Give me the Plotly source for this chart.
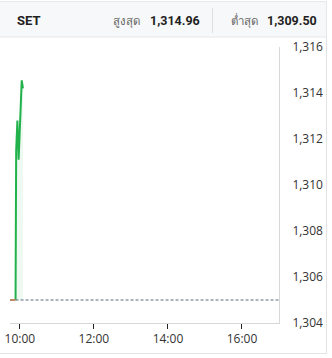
import plotly.graph_objects as go

# ---- data ----
day = "2024-01-01 "
prev_close = 1305.0
prev_times = ["09:44", "09:53"]
prev_values = [1305.0, 1305.0]
line_times = ["09:53", "09:54", "09:56", "09:58", "10:03", "10:05"]
line_values = [1305.0, 1311.5, 1312.8, 1311.1, 1314.55, 1314.2]
x_range = ["09:44", "17:00"]
x_tick_vals = ["10:00", "12:00", "14:00", "16:00"]
x_tick_text = ["10:00", "12:00", "14:00", "16:00"]
y_tick_vals = [1304, 1306, 1308, 1310, 1312, 1314, 1316]
y_tick_text = ["1,304", "1,306", "1,308", "1,310", "1,312", "1,314", "1,316"]
title = "SET"
high_label, high_value = "สูงสุด", "1,314.96"
low_label, low_value = "ต่ำสุด", "1,309.50"

W, H = 332, 358
def px(x):
    return x / W
def py(y):
    return 1 - y / H

FONT = "Open Sans, Noto Sans, sans-serif"

fig = go.Figure()
# baseline for the fill (previous close)
fig.add_trace(go.Scatter(
    x=[day + t for t in line_times], y=[prev_close] * len(line_times), mode="lines",
    line=dict(width=0, color="rgba(0,0,0,0)"), hoverinfo="skip", showlegend=False))
fig.add_trace(go.Scatter(
    x=[day + t for t in line_times], y=line_values, mode="lines",
    line=dict(color="#22b24c", width=2), fill="tonexty",
    fillcolor="rgba(34,178,76,0.08)", hoverinfo="skip", showlegend=False))
fig.add_trace(go.Scatter(
    x=[day + line_times[0], day + x_range[1]], y=[prev_close, prev_close], mode="lines",
    line=dict(color="#5a6c7e", width=1, dash="3px,2px"), hoverinfo="skip", showlegend=False))
fig.add_trace(go.Scatter(
    x=[day + t for t in prev_times], y=prev_values, mode="lines",
    line=dict(color="#c08a66", width=2), hoverinfo="skip", showlegend=False))

shapes = [
    dict(type="rect", xref="paper", yref="paper", x0=px(-2), x1=px(326.5), y0=py(353.5), y1=py(1.5),
         line=dict(color="#e3e3e3", width=1), fillcolor="rgba(0,0,0,0)", layer="below"),
    dict(type="rect", xref="paper", yref="paper", x0=px(-2), x1=px(326.5), y0=py(37), y1=py(1.5),
         line=dict(color="#e8e8e8", width=1), fillcolor="#f7f8f9", layer="below"),
    dict(type="line", xref="paper", yref="paper", x0=px(212.5), x1=px(212.5), y0=py(33), y1=py(8),
         line=dict(color="#dedede", width=1)),
]

annotations = [
    dict(text="<b>" + title + "</b>", x=px(15), y=py(20), xref="paper", yref="paper",
         xanchor="left", yanchor="middle", showarrow=False,
         font=dict(family="Roboto, Noto Sans, sans-serif", size=13, color="#1f1f1f")),
    dict(text=high_label, x=px(111), y=py(20), xref="paper", yref="paper",
         xanchor="left", yanchor="middle", showarrow=False,
         font=dict(family="Noto Sans, sans-serif", size=11.5, color="#666666")),
    dict(text="<b>" + high_value + "</b>", x=px(148), y=py(20), xref="paper", yref="paper",
         xanchor="left", yanchor="middle", showarrow=False,
         font=dict(family="Roboto, Noto Sans, sans-serif", size=12.5, color="#1f1f1f")),
    dict(text=low_label, x=px(229), y=py(20), xref="paper", yref="paper",
         xanchor="left", yanchor="middle", showarrow=False,
         font=dict(family="Noto Sans, sans-serif", size=11.5, color="#666666")),
    dict(text="<b>" + low_value + "</b>", x=px(265), y=py(20), xref="paper", yref="paper",
         xanchor="left", yanchor="middle", showarrow=False,
         font=dict(family="Roboto, Noto Sans, sans-serif", size=12.5, color="#1f1f1f")),
]

fig.update_layout(
    template="none",
    width=W, height=H, margin=dict(l=0, r=0, t=0, b=0, pad=0),
    paper_bgcolor="white", plot_bgcolor="white", showlegend=False,
    shapes=shapes, annotations=annotations,
    xaxis=dict(domain=[px(10), px(279)], type="date", automargin=False,
               range=[day + x_range[0], day + x_range[1]],
               tickvals=[day + t for t in x_tick_vals], ticktext=x_tick_text,
               showgrid=False, zeroline=False, showline=True, linecolor="#d8d8d8", linewidth=1,
               ticks="outside", ticklen=5, tickcolor="#222", tickwidth=1,
               tickfont=dict(family=FONT, size=12, color="#333"), fixedrange=True),
    yaxis=dict(domain=[py(323), py(47)], range=[1304, 1316], side="right", automargin=False,
               tickvals=y_tick_vals, ticktext=y_tick_text,
               showgrid=False, zeroline=False, showline=True, linecolor="#d8d8d8", linewidth=1,
               ticks="", ticklabelstandoff=10,
               tickfont=dict(family=FONT, size=12, color="#333"), fixedrange=True),
)

fig.write_html("out.html", config={"displayModeBar": False})
